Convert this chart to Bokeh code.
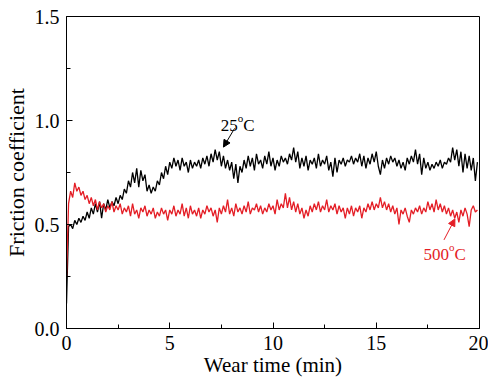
import numpy as np
from bokeh.plotting import figure
from bokeh.models import Label, Arrow, NormalHead, FixedTicker, NumeralTickFormatter, Range1d
from bokeh.embed import file_html
from bokeh.resources import INLINE

# ---- data ----
cof_25C = [
    0.12, 0.49, 0.50, 0.48, 0.52, 0.50, 0.53, 0.51, 0.54, 0.52,
    0.56, 0.53, 0.58, 0.55, 0.60, 0.56, 0.61, 0.53, 0.60, 0.57,
    0.62, 0.58, 0.61, 0.59, 0.63, 0.60, 0.64, 0.62, 0.67, 0.65,
    0.71, 0.68, 0.75, 0.70, 0.77, 0.68, 0.76, 0.71, 0.74, 0.66,
    0.69, 0.65, 0.68, 0.66, 0.71, 0.69, 0.75, 0.72, 0.78, 0.74,
    0.80, 0.77, 0.82, 0.78, 0.81, 0.76, 0.82, 0.78, 0.80, 0.75,
    0.81, 0.77, 0.80, 0.78, 0.81, 0.77, 0.82, 0.79, 0.83, 0.78,
    0.84, 0.80, 0.86, 0.81, 0.85, 0.78, 0.83, 0.77, 0.81, 0.76,
    0.80, 0.72, 0.79, 0.70, 0.78, 0.75, 0.81, 0.77, 0.83, 0.78,
    0.82, 0.76, 0.84, 0.79, 0.81, 0.77, 0.83, 0.79, 0.85, 0.78,
    0.82, 0.76, 0.81, 0.78, 0.83, 0.80, 0.82, 0.79, 0.84, 0.81,
    0.87, 0.80, 0.85, 0.77, 0.82, 0.78, 0.83, 0.76, 0.81, 0.79,
    0.82, 0.77, 0.84, 0.78, 0.81, 0.79, 0.83, 0.76, 0.80, 0.73,
    0.82, 0.75, 0.81, 0.79, 0.82, 0.78, 0.81, 0.80, 0.83, 0.79,
    0.82, 0.80, 0.84, 0.78, 0.83, 0.77, 0.82, 0.79, 0.84, 0.80,
    0.85, 0.78, 0.74, 0.81, 0.77, 0.82, 0.79, 0.83, 0.80, 0.82,
    0.78, 0.81, 0.77, 0.80, 0.76, 0.82, 0.79, 0.83, 0.80, 0.86,
    0.79, 0.84, 0.74, 0.82, 0.77, 0.80, 0.76, 0.79, 0.77, 0.80,
    0.78, 0.81, 0.77, 0.80, 0.79, 0.82, 0.80, 0.87, 0.81, 0.86,
    0.78, 0.85, 0.75, 0.84, 0.77, 0.83, 0.76, 0.82, 0.71, 0.80,
]

cof_500C = [
    0.25, 0.60, 0.66, 0.63, 0.70, 0.66, 0.68, 0.64, 0.66, 0.62,
    0.64, 0.60, 0.63, 0.59, 0.62, 0.57, 0.61, 0.58, 0.60, 0.56,
    0.59, 0.57, 0.61, 0.56, 0.59, 0.57, 0.60, 0.55, 0.58, 0.56,
    0.59, 0.54, 0.60, 0.55, 0.57, 0.53, 0.58, 0.56, 0.59, 0.54,
    0.57, 0.55, 0.58, 0.53, 0.56, 0.54, 0.58, 0.55, 0.57, 0.52,
    0.57, 0.55, 0.59, 0.54, 0.57, 0.55, 0.60, 0.54, 0.58, 0.53,
    0.59, 0.55, 0.57, 0.54, 0.58, 0.53, 0.57, 0.55, 0.59, 0.56,
    0.58, 0.54, 0.57, 0.51, 0.58, 0.55, 0.59, 0.56, 0.62, 0.55,
    0.58, 0.54, 0.60, 0.56, 0.58, 0.55, 0.59, 0.56, 0.61, 0.55,
    0.58, 0.57, 0.60, 0.56, 0.59, 0.55, 0.58, 0.56, 0.60, 0.57,
    0.59, 0.55, 0.62, 0.57, 0.60, 0.58, 0.65, 0.58, 0.63, 0.57,
    0.61, 0.56, 0.60, 0.55, 0.58, 0.53, 0.57, 0.54, 0.59, 0.56,
    0.60, 0.57, 0.61, 0.56, 0.59, 0.57, 0.62, 0.56, 0.59, 0.57,
    0.60, 0.55, 0.59, 0.56, 0.58, 0.53, 0.58, 0.55, 0.59, 0.54,
    0.58, 0.56, 0.59, 0.53, 0.58, 0.56, 0.60, 0.57, 0.61, 0.57,
    0.60, 0.58, 0.63, 0.58, 0.61, 0.57, 0.60, 0.56, 0.59, 0.55,
    0.58, 0.50, 0.57, 0.55, 0.58, 0.54, 0.51, 0.57, 0.55, 0.58,
    0.56, 0.59, 0.55, 0.58, 0.56, 0.61, 0.57, 0.60, 0.56, 0.62,
    0.57, 0.60, 0.56, 0.59, 0.55, 0.58, 0.54, 0.57, 0.53, 0.56,
    0.51, 0.57, 0.54, 0.58, 0.55, 0.49, 0.57, 0.59, 0.56, 0.57,
]

sample_step_min = 0.1
time_min = [round(i * sample_step_min, 2) for i in range(len(cof_25C))]

x_ticks = [0, 5, 10, 15, 20]
y_ticks = [0.0, 0.5, 1.0, 1.5]

FONT = "Liberation Serif"
RED = "#e41e26"

p = figure(width=488, height=382, output_backend="svg", toolbar_location=None,
           x_range=Range1d(0, 20), y_range=Range1d(0, 1.5),
           min_border_left=64, min_border_right=9, min_border_top=16, min_border_bottom=54)
p.xgrid.visible = False
p.ygrid.visible = False
p.outline_line_color = "black"
p.outline_line_width = 1
p.outline_line_alpha = 1
p.background_fill_color = "white"
p.border_fill_color = "white"

p.line(time_min, cof_25C, line_color="black", line_width=1.3)
p.line(time_min, cof_500C, line_color=RED, line_width=1.3)

for ax in (p.xaxis[0], p.yaxis[0]):
    ax.axis_line_color = "black"
    ax.axis_line_width = 1
    ax.major_tick_in = 6
    ax.major_tick_out = 0
    ax.minor_tick_in = 4
    ax.minor_tick_out = 0
    ax.major_tick_line_color = "black"
    ax.minor_tick_line_color = "black"
    ax.major_label_text_font = FONT
    ax.major_label_text_font_size = "20px"
    ax.major_label_text_color = "black"
    ax.axis_label_text_font = FONT
    ax.axis_label_text_font_style = "normal"
    ax.axis_label_text_color = "black"

p.xaxis.axis_label_text_font_size = "21px"
p.yaxis.axis_label_text_font_size = "22px"
p.xaxis.ticker = FixedTicker(ticks=x_ticks, minor_ticks=[2.5, 7.5, 12.5, 17.5])
p.yaxis.ticker = FixedTicker(ticks=y_ticks, minor_ticks=[0.25, 0.75, 1.25])
p.yaxis.formatter = NumeralTickFormatter(format="0.0")
p.xaxis.axis_label = "Wear time (min)"
p.yaxis.axis_label = "Friction coefficient"
p.xaxis.major_label_standoff = 7
p.yaxis.major_label_standoff = 7
p.xaxis.axis_label_standoff = 0
p.yaxis.axis_label_standoff = 3

# annotations
def temp_label(x, y, num, color, num_w):
    p.add_layout(Label(x=x, y=y, text=num, text_font=FONT, text_font_size="17px",
                       text_color=color, text_align="left", text_baseline="alphabetic"))
    p.add_layout(Label(x=x, y=y, x_offset=num_w, y_offset=7, text="o", text_font=FONT,
                       text_font_size="11px", text_color=color, text_align="left",
                       text_baseline="alphabetic"))
    p.add_layout(Label(x=x, y=y, x_offset=num_w + 5.5, text="C", text_font=FONT,
                       text_font_size="17px", text_color=color, text_align="left",
                       text_baseline="alphabetic"))

temp_label(7.47, 0.976, "25", "black", 17)
temp_label(17.29, 0.356, "500", RED, 25.5)

p.add_layout(Arrow(x_start=8.14, y_start=0.962, x_end=7.60, y_end=0.872,
                   line_color="black", line_width=1,
                   end=NormalHead(size=7, fill_color="black", line_color="black")))
p.add_layout(Arrow(x_start=18.28, y_start=0.426, x_end=18.81, y_end=0.527,
                   line_color=RED, line_width=1,
                   end=NormalHead(size=7, fill_color=RED, line_color=RED)))

open("out.html", "w").write(file_html(p, INLINE))
